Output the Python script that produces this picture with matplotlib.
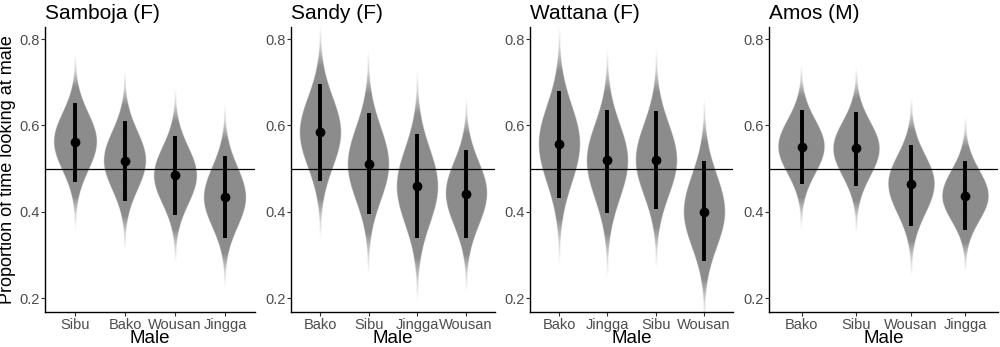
import numpy as np
import matplotlib
matplotlib.use("Agg")
import matplotlib.pyplot as plt

plt.rcParams['font.family'] = ['Liberation Sans', 'DejaVu Sans']

# panel titles and male order per panel
titles = ["Samboja (F)", "Sandy (F)", "Wattana (F)", "Amos (M)"]
males = [
    ["Sibu", "Bako", "Wousan", "Jingga"],
    ["Bako", "Sibu", "Jingga", "Wousan"],
    ["Bako", "Jingga", "Sibu", "Wousan"],
    ["Bako", "Sibu", "Wousan", "Jingga"],
]
# posterior medians and interval ends
medians = [
    [0.561, 0.518, 0.484, 0.433],
    [0.584, 0.510, 0.459, 0.442],
    [0.558, 0.519, 0.519, 0.399],
    [0.551, 0.547, 0.464, 0.436],
]
upper = [
    [0.652, 0.611, 0.575, 0.530],
    [0.696, 0.629, 0.580, 0.542],
    [0.680, 0.636, 0.634, 0.517],
    [0.636, 0.632, 0.554, 0.518],
]
lower = [
    [0.469, 0.425, 0.393, 0.339],
    [0.472, 0.395, 0.339, 0.339],
    [0.432, 0.397, 0.406, 0.286],
    [0.465, 0.459, 0.368, 0.357],
]

# axes positions in pixels (left, right)
panel_px = [(45, 255), (291, 495), (530, 733), (769, 998)]
W, H = 1000, 347
top_px, bot_px = 27, 312

fig = plt.figure(figsize=(10, 3.47), dpi=100)
grey = np.array([140, 140, 140]) / 255.0


def draw_violin(ax, x0, med, hi, lo, halfw=0.42):
    # interval ends sit where the violin is ~40% of its max width
    sd_hi = (hi - med) / 1.38
    sd_lo = (med - lo) / 1.38
    ys = np.linspace(med - 3.1 * sd_lo, med + 3.1 * sd_hi, 800)
    sd = np.where(ys > med, sd_hi, sd_lo)
    z = np.abs(ys - med) / sd
    dens = np.exp(-0.5 * z ** 2)
    width = halfw * dens
    xs = np.linspace(x0 - 0.5, x0 + 0.5, 400)
    X, Y = np.meshgrid(xs, ys)
    inside = np.abs(X - x0) <= np.maximum(width[:, None], 0.018)
    fade = np.clip((3.1 - z) / 1.2, 0, 1) ** 1.3
    alpha = inside * fade[:, None]
    img = np.zeros(alpha.shape + (4,))
    img[..., :3] = grey
    img[..., 3] = alpha
    ax.imshow(img, extent=(xs[0], xs[-1], ys[0], ys[-1]), origin='lower',
              aspect='auto', interpolation='bilinear', zorder=1)


for i in range(4):
    l, r = panel_px[i]
    ax = fig.add_axes([l / W, 1 - bot_px / H, (r - l) / W, (bot_px - top_px) / H])
    pos = np.arange(1, 5)
    for j in range(4):
        draw_violin(ax, pos[j], medians[i][j], upper[i][j], lower[i][j])
    ax.axhline(0.5, color='black', lw=0.9, zorder=2)
    ax.vlines(pos, lower[i], upper[i], color='black', lw=2.8, zorder=3)
    ax.plot(pos, medians[i], 'o', color='black', ms=6, zorder=4)

    ax.set_xlim(0.4, 4.6)
    ax.set_ylim(0.1676, 0.828)
    ax.set_xticks(pos)
    ax.set_xticklabels(males[i])
    ax.set_yticks([0.2, 0.4, 0.6, 0.8])
    ax.set_yticklabels(["0.2", "0.4", "0.6", "0.8"])
    ax.tick_params(colors='#333333', labelcolor='#4d4d4d', labelsize=10.5,
                   length=3, width=0.8, pad=1)
    for s in ['top', 'right']:
        ax.spines[s].set_visible(False)
    for s in ['left', 'bottom']:
        ax.spines[s].set_linewidth(1.0)
        ax.spines[s].set_color('black')
    ax.set_xlabel("Male", fontsize=13.5, labelpad=-1)
    ax.set_title(titles[i], loc='left', fontsize=15, pad=6)
    if i == 0:
        ax.set_ylabel("Proportion of time looking at male", fontsize=13, labelpad=2)

fig.savefig("out.png", dpi=100)
